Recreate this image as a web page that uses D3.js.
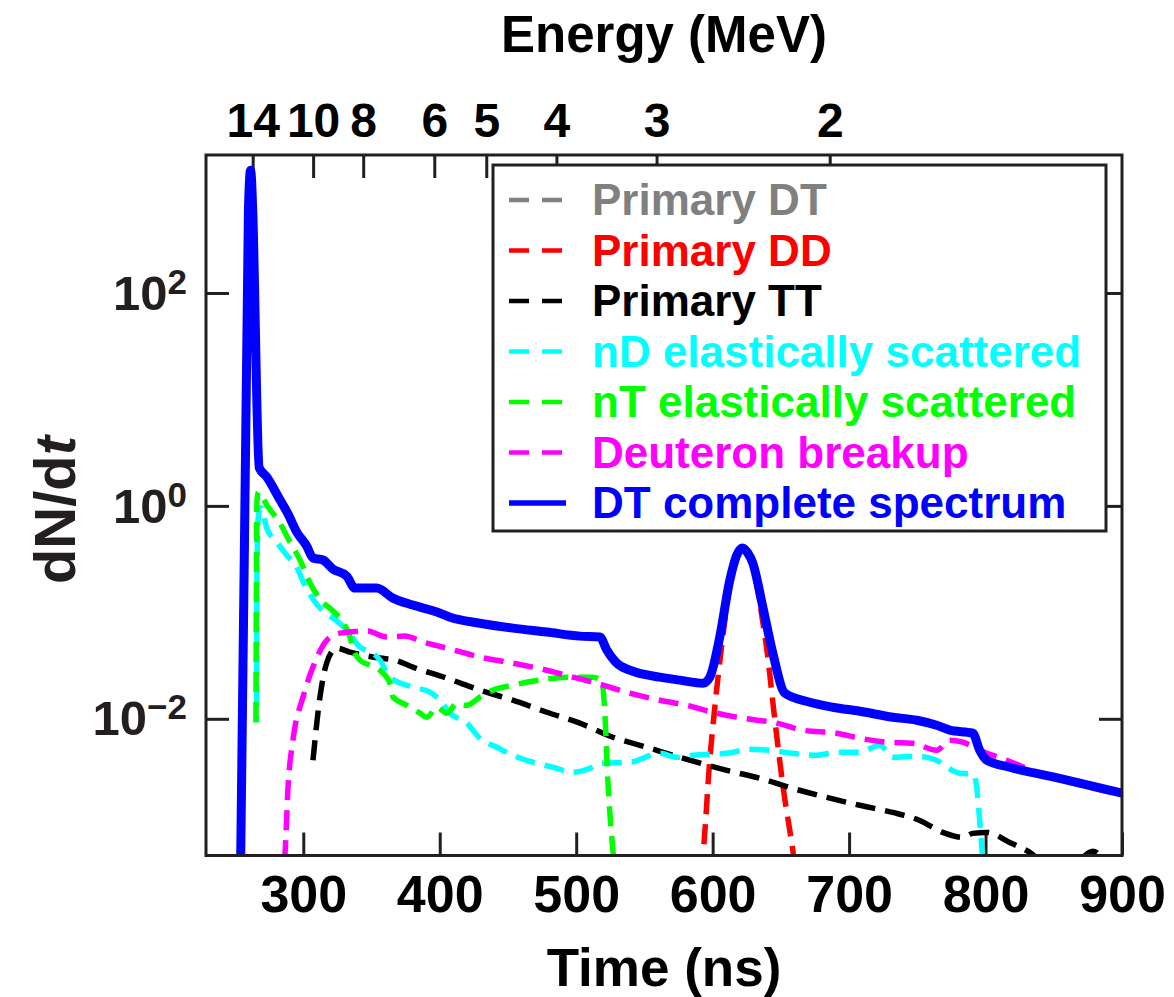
<!DOCTYPE html>
<html><head><meta charset="utf-8">
<script src="https://cdn.jsdelivr.net/npm/d3@7"></script>
<style>
body{margin:0;background:#fff}
svg{display:block}
text{font-family:"Liberation Sans",Arial,Helvetica,sans-serif;font-weight:bold}
</style>
</head><body>
<svg id="chart" width="1174" height="997"></svg>
<script>
// ---------- data ----------
const timeDomain = [228.7, 900];           // ns
const yDomain = [5.2e-4, 1977];            // dN/dt
const timeTicks = [300, 400, 500, 600, 700, 800, 900];
const yTicks = [1e-2, 1, 1e2];
const yTickExp = ["\u22122", "0", "2"];
const energyLabels = ["14", "10", "8", "6", "5", "4", "3", "2"];
const energyTickTimes = [262.9, 307.2, 343.9, 396.0, 434.1, 485.5, 558.9, 685.8];

const seriesNames = ["Primary DT", "Primary DD", "Primary TT", "nD elastically scattered",
  "nT elastically scattered", "Deuteron breakup", "DT complete spectrum"];
const seriesColors = ["#808080", "#ff0000", "#000000", "#00ffff", "#00ff00", "#ff00ff", "#0000ff"];

const dtT = [254.1, 259.8, 260.6, 261.3, 262.0, 262.8, 265.2];
const dtV = [4.7e-4, 610, 1150, 1420, 1200, 680, 23];

const ddT = [590.7, 592.8, 597.9, 601.6, 606.5, 612.6, 617.7, 621.9, 625.8, 629.4, 636.8, 639.5, 645.6, 651.6, 659.0, 661.7];
const ddV = [3.5e-4, 5.2e-4, 0.0041, 0.0129, 0.047, 0.18, 0.32, 0.38, 0.34, 0.27, 0.08, 0.047, 0.0097, 0.0023, 5.5e-4, 3e-4];

const ttT = [307.1, 312.2, 317.1, 324.4, 334.2, 356.2, 367.2, 380.3, 405.0, 429.4, 453.6, 478.5, 502.7, 526.9, 551.8, 575.9, 610.4, 634.6, 658.7, 683.6, 707.8, 732.0, 751.8, 768.6, 783.3, 790.6, 800.9, 817.7, 832.4, 843.3, 865.3, 878.5, 887.3];
const ttV = [0.00408, 0.01597, 0.0334, 0.0461, 0.0423, 0.0372, 0.0356, 0.0306, 0.0241, 0.0186, 0.01496, 0.01153, 0.0091, 0.00671, 0.0054, 0.00435, 0.00328, 0.00276, 0.00222, 0.00183, 0.00154, 0.00132, 0.00111, 0.000857, 0.000769, 0.000839, 0.000857, 0.00069, 0.000556, 0.000448, 0.000448, 0.000569, 0.000468];

const ndT = [265.7, 266.1, 267.2, 269.0, 273.2, 280.5, 287.8, 295.1, 300.0, 307.1, 314.4, 324.7, 332.0, 341.5, 351.0, 356.2, 363.5, 380.3, 392.8, 400.1, 407.5, 419.9, 429.4, 441.9, 453.6, 468.3, 482.9, 497.6, 510.0, 517.3, 539.3, 561.3, 573.7, 585.5, 610.4, 627.2, 641.9, 658.7, 676.3, 691.0, 707.8, 722.5, 732.0, 749.6, 764.2, 771.5, 781.1, 791.3, 793.5, 795.7, 797.9];
const ndV = [0.0093, 0.31, 0.82, 0.96, 0.62, 0.458, 0.346, 0.267, 0.193, 0.133, 0.103, 0.0828, 0.0681, 0.0472, 0.0414, 0.0356, 0.0246, 0.0198, 0.0178, 0.0150, 0.0113, 0.0091, 0.00657, 0.0054, 0.00455, 0.00391, 0.00351, 0.00315, 0.00343, 0.00382, 0.00391, 0.00474, 0.00435, 0.00455, 0.00474, 0.00517, 0.00507, 0.00474, 0.00455, 0.00485, 0.00485, 0.00565, 0.00435, 0.00445, 0.00408, 0.00351, 0.00308, 0.00301, 0.00227, 0.00111, 0.00047];

const ntT = [265.3, 265.7, 266.1, 267.2, 269.0, 273.2, 282.9, 290.2, 297.6, 304.9, 312.2, 321.7, 329.1, 334.2, 336.4, 341.5, 348.8, 356.2, 363.5, 365.7, 375.9, 385.5, 390.6, 397.9, 405.2, 412.6, 419.9, 429.4, 439.0, 453.6, 473.4, 493.2, 512.2, 518.8, 521.0, 523.2, 526.9, 528.3];
const ntV = [0.0093, 0.31, 1.14, 1.35, 1.27, 1.02, 0.69, 0.458, 0.31, 0.189, 0.133, 0.103, 0.081, 0.0586, 0.0461, 0.0356, 0.0319, 0.0286, 0.0216, 0.016, 0.0134, 0.0113, 0.01035, 0.01285, 0.0113, 0.0140, 0.0134, 0.0160, 0.0186, 0.0207, 0.0231, 0.0246, 0.0246, 0.0226, 0.0113, 0.00264, 0.00058, 0.00038];

const dbT = [286.2, 286.6, 288.8, 292.4, 299.8, 307.1, 317.3, 326.9, 346.7, 361.3, 374.5, 387.7, 405.2, 429.4, 453.6, 478.5, 497.6, 515.1, 539.3, 561.3, 581.1, 600.1, 622.1, 647.0, 666.0, 691.0, 707.8, 727.6, 746.7, 764.2, 773.8, 783.3, 795.7, 815.5, 830.2, 854.3, 899];
const dbV = [4.7e-4, 5.4e-4, 0.00227, 0.00629, 0.016, 0.0306, 0.0549, 0.0638, 0.0667, 0.0586, 0.0598, 0.0526, 0.0461, 0.0380, 0.0333, 0.0286, 0.0246, 0.0216, 0.0174, 0.01496, 0.0134, 0.01153, 0.01014, 0.0091, 0.00782, 0.00733, 0.00657, 0.00603, 0.00589, 0.00507, 0.00629, 0.00603, 0.00507, 0.00408, 0.00343, 0.0027, 0.00195];

const fullT = [254.1, 259.8, 260.6, 261.3, 262.0, 262.8, 267.7, 273.2, 282.9, 288.8, 295.1, 302.5, 307.1, 314.4, 321.7, 331.8, 337.9, 353.8, 365.7, 380.3, 397.9, 407.5, 429.4, 453.6, 478.5, 502.7, 517.3, 522.5, 529.8, 539.3, 561.3, 575.9, 592.8, 597.9, 605.2, 612.6, 617.7, 621.9, 625.8, 629.4, 636.8, 644.1, 652.9, 671.2, 688.0, 707.8, 732.0, 749.6, 764.2, 773.8, 790.6, 795.7, 800.9, 817.7, 854.3, 900];
const fullV = [4.7e-4, 610, 1150, 1420, 1200, 680, 2.28, 1.87, 1.14, 0.84, 0.57, 0.42, 0.324, 0.31, 0.255, 0.219, 0.169, 0.169, 0.136, 0.117, 0.1007, 0.090, 0.079, 0.0711, 0.0653, 0.0598, 0.0586, 0.0442, 0.0333, 0.0286, 0.0246, 0.0231, 0.0216, 0.0246, 0.0586, 0.201, 0.346, 0.403, 0.361, 0.291, 0.112, 0.0414, 0.0174, 0.0143, 0.01285, 0.01178, 0.01035, 0.0097, 0.0087, 0.00782, 0.00733, 0.00507, 0.00408, 0.00351, 0.00276, 0.0020];

const seriesT = [dtT, ddT, ttT, ndT, ntT, dbT, fullT];
const seriesV = [dtV, ddV, ttV, ndV, ntV, dbV, fullV];
const seriesDashed = [true, true, true, true, true, true, false];
const seriesDashOffset = [0, 0, 0, 14, 0, 0, 0];

// ---------- layout ----------
const frame = {left: 206, right: 1122, top: 155, bottom: 855.5};
const axisColor = "#231f20";
const svg = d3.select("#chart");

const x = d3.scaleLinear().domain(timeDomain).range([frame.left, frame.right]);
const y = d3.scaleLog().domain(yDomain).range([frame.bottom, frame.top]);

function styleAxis(g) {
  g.select(".domain").remove();
  g.selectAll(".tick line").attr("stroke", axisColor).attr("stroke-width", 3);
  g.selectAll("text").attr("fill", "#000").style("font-family", '"Liberation Sans", Arial, sans-serif').style("font-weight", "bold");
}

// bottom axis (time)
const gB = svg.append("g").attr("transform", `translate(0,${frame.bottom})`)
  .call(d3.axisBottom(x).tickValues(timeTicks).tickSize(-23).tickSizeOuter(0).tickFormat(d3.format("d")));
styleAxis(gB);
gB.selectAll("text").attr("y", 56.5).attr("dy", null).attr("font-size", 52);

// top axis (energy)
const gT = svg.append("g").attr("transform", `translate(0,${frame.top})`)
  .call(d3.axisTop(x).tickValues(energyTickTimes).tickSize(-23).tickSizeOuter(0)
    .tickFormat((d, i) => energyLabels[i]));
styleAxis(gT);
gT.selectAll("text").attr("y", -18).attr("dy", null).attr("font-size", 48);

// left axis (log)
const gL = svg.append("g").attr("transform", `translate(${frame.left},0)`)
  .call(d3.axisLeft(y).tickValues(yTicks).tickSize(-23).tickSizeOuter(0).tickFormat(""));
styleAxis(gL);
gL.selectAll(".tick text").each(function(d, i) {
  const t = d3.select(this);
  t.text(null).attr("x", -19).attr("dy", "0.33em").attr("font-size", 49).attr("fill", axisColor);
  t.append("tspan").text("10");
  t.append("tspan").attr("dy", -16).attr("font-size", 35).text(yTickExp[i]);
});

// right axis (ticks only)
const gR = svg.append("g").attr("transform", `translate(${frame.right},0)`)
  .call(d3.axisRight(y).tickValues(yTicks).tickSize(-23).tickSizeOuter(0).tickFormat(""));
styleAxis(gR);

// curves
svg.append("clipPath").attr("id", "clip").append("rect")
  .attr("x", frame.left).attr("y", frame.top)
  .attr("width", frame.right - frame.left).attr("height", frame.bottom - frame.top);

const line = d3.line().x(d => x(d[0])).y(d => y(d[1])).curve(d3.curveMonotoneX);
const gC = svg.append("g").attr("clip-path", "url(#clip)");
seriesT.forEach((ts, k) => {
  const pts = ts.map((t, i) => [t, seriesV[k][i]]);
  gC.append("path").datum(pts)
    .attr("d", line)
    .attr("fill", "none")
    .attr("stroke", seriesColors[k])
    .attr("stroke-width", seriesDashed[k] ? 5.5 : 9)
    .attr("stroke-dasharray", seriesDashed[k] ? "20,10" : null)
    .attr("stroke-dashoffset", seriesDashOffset[k])
    .attr("stroke-linejoin", "round");
});

// frame
svg.append("rect").attr("x", frame.left).attr("y", frame.top)
  .attr("width", frame.right - frame.left).attr("height", frame.bottom - frame.top)
  .attr("fill", "none").attr("stroke", axisColor).attr("stroke-width", 3);

// axis titles
svg.append("text").attr("x", 664).attr("y", 52).attr("text-anchor", "middle")
  .attr("font-size", 51).text("Energy (MeV)");
svg.append("text").attr("x", 664).attr("y", 986).attr("text-anchor", "middle")
  .attr("font-size", 53).text("Time (ns)");
const yl = svg.append("text").attr("transform", "translate(75,510) rotate(-90)")
  .attr("text-anchor", "middle").attr("font-size", 58).attr("fill", axisColor);
yl.append("tspan").text("dN/d");
yl.append("tspan").attr("font-style", "italic").text("t");

// legend
const lg = svg.append("g");
lg.append("rect").attr("x", 493).attr("y", 165).attr("width", 613).attr("height", 366)
  .attr("fill", "#fff").attr("stroke", axisColor).attr("stroke-width", 3);
seriesNames.forEach((name, i) => {
  const ry = 200 + i * 50.5;
  lg.append("line").attr("x1", 509).attr("x2", seriesDashed[i] ? 563 : 566)
    .attr("y1", ry).attr("y2", ry)
    .attr("stroke", seriesColors[i]).attr("stroke-width", seriesDashed[i] ? 4.5 : 5.5)
    .attr("stroke-dasharray", seriesDashed[i] ? "20,13" : null);
  lg.append("text").attr("x", 592).attr("y", ry).attr("dy", "0.35em")
    .attr("font-size", 44).attr("fill", seriesColors[i]).text(name);
});
</script>
</body></html>
